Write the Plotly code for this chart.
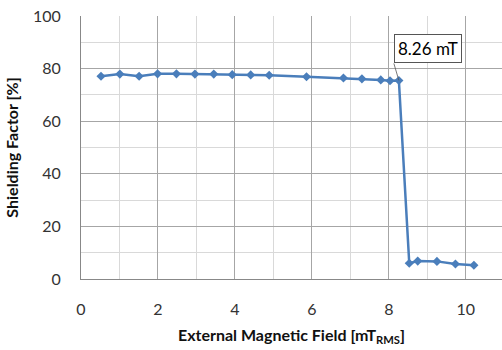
import plotly.graph_objects as go

field_mt = [0.52, 1.01, 1.51, 1.99, 2.48, 2.96, 3.45, 3.93, 4.41, 4.89, 5.86, 6.82, 7.30, 7.79, 8.03, 8.26,
            8.53, 8.75, 9.25, 9.73, 10.21]
shielding_pct = [77.1, 77.9, 77.1, 78.0, 78.0, 77.9, 77.9, 77.7, 77.6, 77.5, 76.9, 76.4, 76.1, 75.7, 75.4, 75.5,
                 6.0, 6.8, 6.7, 5.7, 5.2]
callout_text = "8.26 mT"
callout_x = 8.26
callout_y = 75.5

font_family = "Lato, 'Open Sans', sans-serif"
blue = "#4a7ebb"

fig = go.Figure()
fig.add_trace(go.Scatter(
    x=field_mt, y=shielding_pct, mode="lines+markers",
    line=dict(color=blue, width=2.5),
    marker=dict(symbol="diamond", size=7, color=blue),
    showlegend=False,
))

fig.add_annotation(
    x=callout_x, y=callout_y, text=callout_text,
    showarrow=True, arrowhead=0, arrowwidth=0.8, arrowcolor="#555555",
    ax=-5, ay=-17, xanchor="left", yanchor="bottom",
    bgcolor="white", bordercolor="#555555", borderwidth=1, borderpad=3,
    font=dict(family=font_family, size=17, color="black"),
)

fig.update_layout(
    width=502, height=350,
    margin=dict(l=81, r=0, t=16, b=71),
    paper_bgcolor="white", plot_bgcolor="white",
    font=dict(family=font_family, size=16, color="#333333"),
    xaxis=dict(
        range=[0, 10.94], tickmode="linear", tick0=0, dtick=2,
        showgrid=True, gridcolor="#a6a6a6", gridwidth=1,
        minor=dict(dtick=1, showgrid=True, gridcolor="#d9d9d9", gridwidth=1),
        showline=True, linecolor="#888888", linewidth=1, zeroline=False,
        ticks="", ticklabelstandoff=16,
        title=dict(text="<b>External Magnetic Field [mT<sub>RMS</sub>]</b>", font=dict(size=16, color="#111111"), standoff=12),
    ),
    yaxis=dict(
        range=[0, 100], tickmode="linear", tick0=0, dtick=20,
        showgrid=True, gridcolor="#a6a6a6", gridwidth=1,
        minor=dict(dtick=10, showgrid=True, gridcolor="#d9d9d9", gridwidth=1),
        showline=True, linecolor="#888888", linewidth=1, zeroline=False,
        ticks="", ticklabelstandoff=16,
        title=dict(text="<b>Shielding Factor [%]</b>", font=dict(size=16, color="#111111"), standoff=10),
    ),
)

fig.write_html("out.html")
